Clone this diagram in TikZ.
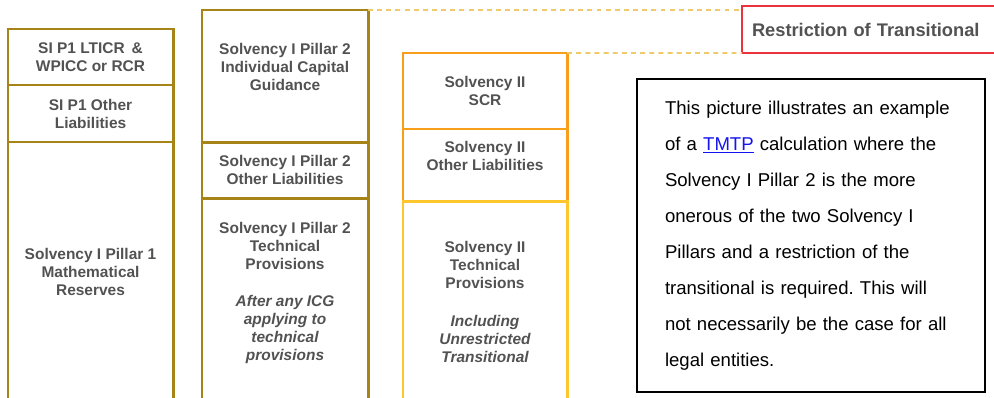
\documentclass[tikz,border=0pt]{standalone}
\usepackage{fontspec}
\setmainfont{Liberation Sans}
\frenchspacing
\definecolor{pillargold}{RGB}{166,132,24}
\definecolor{siiorange}{RGB}{247,158,27}
\definecolor{siiyellow}{RGB}{255,198,45}
\definecolor{guidegold}{RGB}{238,202,105}
\definecolor{restrictred}{RGB}{236,50,60}
\definecolor{blocktext}{RGB}{82,82,82}
\definecolor{linkblue}{RGB}{20,20,240}
\tikzset{
  /tikz/.cd,
  block/.style={draw,line width=2.1pt,inner sep=0pt,outer sep=0pt,anchor=north west,align=center,
    font=\fontsize{11}{12.8}\selectfont\bfseries,text=blocktext}
}

\begin{document}
\begin{tikzpicture}[x=0.025cm,y=-0.025cm,
                    sione/.style={block,draw=pillargold,minimum width=4.125cm},
                    sitwo/.style={block,draw=pillargold,minimum width=4.15cm},
                    sii/.style={block,draw=siiorange,minimum width=4.1cm},
                    guide/.style={draw=guidegold,line width=1.4pt,dash pattern=on 3.5pt off 3pt}]
      \useasboundingbox (0,0) rectangle (994,398);
      \clip (0,0) rectangle (994,398);

      \node[sione,minimum height=1.4cm] (p1ltic) at (8,29) {SI P1 LTICR \,\&\\WPICC or RCR};
      \node[sione,minimum height=1.425cm] (p1other) at (p1ltic.south west) {SI P1 Other\\Liabilities};
      \node[sione,minimum height=6.5cm] (p1math) at (p1other.south west) {Solvency I Pillar 1\\Mathematical\\Reserves};

      \node[sitwo,minimum height=3.3cm] (p2icg) at (202,10) {Solvency I Pillar 2\\Individual Capital\\Guidance\\\mbox{}};
      \node[sitwo,minimum height=1.4cm] (p2other) at (p2icg.south west) {Solvency I Pillar 2\\Other Liabilities};
      \node[sitwo,minimum height=5.1cm] (p2tp) at (p2other.south west) {Solvency I Pillar 2\\Technical\\Provisions\\[0.475cm]
        \itshape After any ICG\\\itshape applying to\\\itshape technical\\\itshape provisions\\\mbox{}};

      \node[sii,minimum height=1.9cm] (iiscr) at (403,53) {Solvency II\\SCR};
      \node[sii,minimum height=1.8cm] (iiother) at (iiscr.south west) {Solvency II\\Other Liabilities\\\mbox{}};
      \node[sii,draw=siiyellow,minimum height=5.025cm] (iitp) at (iiother.south west) {Solvency II\\Technical\\Provisions\\[0.5cm]
        \itshape Including\\\itshape Unrestricted\\\itshape Transitional};

      \node[draw=restrictred,line width=1.1pt,anchor=north west,outer sep=0pt,minimum height=1.175cm,inner xsep=0.25cm,
            text width=7cm,align=left,font=\fontsize{13}{15}\selectfont\bfseries,text=blocktext] (restrict) at (742,6) {Restriction of Transitional};

      \draw[guide] (p2icg.north east) -- (p2icg.north east -| restrict.west);
      \draw[guide] (iiscr.north east) -- (restrict.south west);

      \node[draw,line width=1.8pt,anchor=north west,outer sep=0pt,minimum height=7.825cm,inner xsep=0.7cm,text width=7.3cm,
            align=left,font=\fontsize{13.2}{25.6}\selectfont] (note) at (637,79)
            {This picture illustrates an example\\
             of a {\color{linkblue}\underline{TMTP}} calculation where the\\
             Solvency I Pillar 2 is the more\\
             onerous of the two Solvency I\\
             Pillars and a restriction of the\\
             transitional is required. This will\\
             not necessarily be the case for all\\
             legal entities.};
    \end{tikzpicture}
\end{document}
